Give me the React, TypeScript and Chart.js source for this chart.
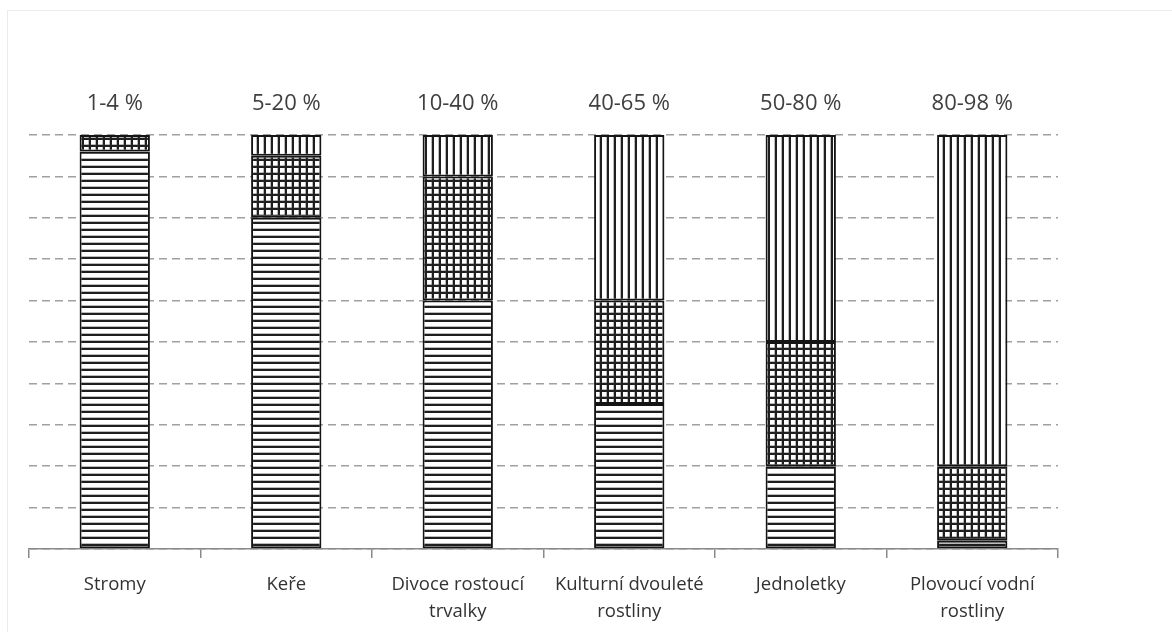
import React, { useEffect, useRef } from "react";
import { Chart, registerables } from "chart.js";

Chart.register(...registerables);

const categories: string[][] = [
  ["Stromy"],
  ["Keře"],
  ["Divoce rostoucí", "trvalky"],
  ["Kulturní dvouleté", "rostliny"],
  ["Jednoletky"],
  ["Plovoucí vodní", "rostliny"],
];
const rangeLabels = ["1-4 %", "5-20 %", "10-40 %", "40-65 %", "50-80 %", "80-98 %"];
const horizontalSeries = [96, 80, 60, 35, 20, 2];
const crossSeries = [4, 15, 30, 25, 30, 18];
const verticalSeries = [0, 5, 10, 40, 50, 80];
const yTicks = [0, 10, 20, 30, 40, 50, 60, 70, 80, 90, 100];

const FONT = '"Open Sans", "Noto Sans", sans-serif';

function makePattern(kind: "h" | "v" | "x"): CanvasPattern | string {
  const s = 7;
  const c = document.createElement("canvas");
  c.width = s;
  c.height = s;
  const g = c.getContext("2d");
  if (!g) return "#fff";
  g.fillStyle = "#ffffff";
  g.fillRect(0, 0, s, s);
  g.fillStyle = "#1e1e1e";
  if (kind === "h" || kind === "x") g.fillRect(0, s - 2, s, 2);
  if (kind === "v" || kind === "x") g.fillRect(s - 2, 0, 2, s);
  g.fillStyle = "rgba(60,60,60,0.35)";
  if (kind === "h" || kind === "x") g.fillRect(0, s - 3, s, 1);
  if (kind === "v" || kind === "x") g.fillRect(s - 3, 0, 1, s);
  const p = g.createPattern(c, "repeat");
  return p || "#fff";
}

export default function App() {
  const ref = useRef<HTMLCanvasElement | null>(null);

  useEffect(() => {
    if (!ref.current) return;
    const topLabels = {
      id: "topLabels",
      afterDatasetsDraw(chart: any) {
        const ctx = chart.ctx;
        const xs = chart.scales.x;
        const ys = chart.scales.y;
        ctx.save();
        ctx.font = `22px ${FONT}`;
        ctx.fillStyle = "#404040";
        ctx.textAlign = "center";
        ctx.textBaseline = "middle";
        rangeLabels.forEach((t, i) => {
          ctx.fillText(t, xs.getPixelForValue(i), ys.getPixelForValue(100) - 31);
        });
        ctx.restore();
      },
    };
    const common = {
      borderColor: "#141414",
      borderWidth: 2,
      borderSkipped: false as const,
      barPercentage: 0.82,
      categoryPercentage: 0.5,
    };
    const chart = new Chart(ref.current, {
      type: "bar",
      data: {
        labels: categories,
        datasets: [
          { label: "horizontal", data: horizontalSeries, backgroundColor: makePattern("h") as any, ...common },
          { label: "cross", data: crossSeries, backgroundColor: makePattern("x") as any, ...common },
          { label: "vertical", data: verticalSeries, backgroundColor: makePattern("v") as any, ...common },
        ],
      },
      options: {
        animation: false,
        responsive: false,
        layout: { padding: { left: 29, right: 114, top: 135, bottom: 0 } },
        plugins: { legend: { display: false }, tooltip: { enabled: false } },
        scales: {
          x: {
            stacked: true,
            offset: true,
            grid: {
              display: true,
              offset: true,
              drawOnChartArea: false,
              drawTicks: true,
              tickLength: 9,
              color: "#8a8a8a",
              lineWidth: 1.5,
            },
            border: { display: true, color: "#8a8a8a", width: 1.5 },
            ticks: {
              color: "#333333",
              font: { family: FONT, size: 18.5, lineHeight: 1.45 },
              padding: 13,
              maxRotation: 0,
              autoSkip: false,
            },
            afterFit: (s: any) => {
              s.height = 83;
            },
          },
          y: {
            stacked: true,
            min: 0,
            max: 100,
            afterBuildTicks: (s: any) => {
              s.ticks = yTicks.map((v) => ({ value: v }));
            },
            ticks: { display: false },
            grid: { color: "#a0a0a0", lineWidth: 1.5, drawTicks: false },
            border: { display: false, dash: [8, 5] },
            afterFit: (s: any) => {
              s.width = 0;
            },
          },
        },
      },
      plugins: [topLabels],
    });
    return () => chart.destroy();
  }, []);

  return (
    <div style={{ position: "fixed", left: 0, top: 0, width: 1172, height: 632, overflow: "hidden", background: "#fff" }}>
      <div style={{ position: "absolute", left: 7, top: 10, width: 1200, height: 700, border: "1px solid #ececec" }} />
      <canvas ref={ref} width={1172} height={632} style={{ position: "absolute", left: 0, top: 0 }} />
    </div>
  );
}
